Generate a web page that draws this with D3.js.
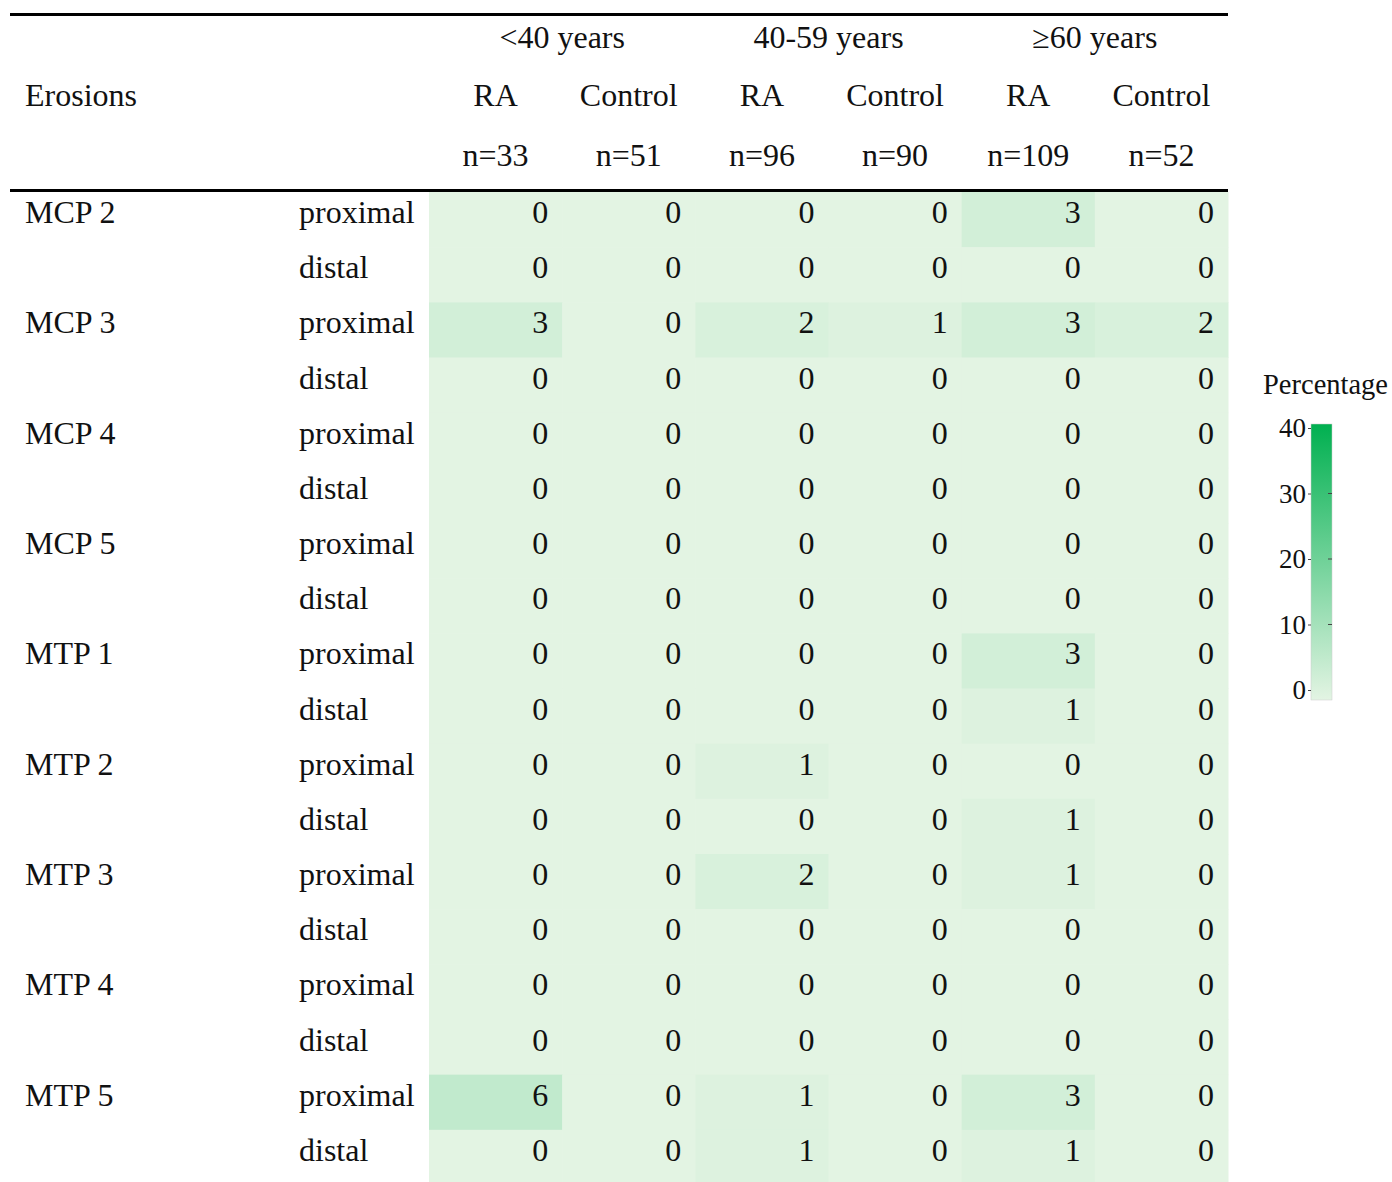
<!DOCTYPE html>
<html>
<head>
<meta charset="utf-8">
<script src="https://cdn.jsdelivr.net/npm/d3@7"></script>
<style>
  body { margin: 0; background: #fff; overflow: hidden; }
  text { font-family: "Liberation Serif", "Times New Roman", serif; fill: #111; }
</style>
</head>
<body>
<svg id="chart" width="1392" height="1182"></svg>
<script>
const ageGroups = ['<40 years', '40-59 years', '\u226560 years'];
const columns = ['RA', 'Control', 'RA', 'Control', 'RA', 'Control'];
const counts = ['n=33', 'n=51', 'n=96', 'n=90', 'n=109', 'n=52'];
const joints = ['MCP 2', 'MCP 3', 'MCP 4', 'MCP 5', 'MTP 1', 'MTP 2', 'MTP 3', 'MTP 4', 'MTP 5'];
const sides = ['proximal', 'distal'];
const values = [
  [0, 0, 0, 0, 3, 0],
  [0, 0, 0, 0, 0, 0],
  [3, 0, 2, 1, 3, 2],
  [0, 0, 0, 0, 0, 0],
  [0, 0, 0, 0, 0, 0],
  [0, 0, 0, 0, 0, 0],
  [0, 0, 0, 0, 0, 0],
  [0, 0, 0, 0, 0, 0],
  [0, 0, 0, 0, 3, 0],
  [0, 0, 0, 0, 1, 0],
  [0, 0, 1, 0, 0, 0],
  [0, 0, 0, 0, 1, 0],
  [0, 0, 2, 0, 1, 0],
  [0, 0, 0, 0, 0, 0],
  [0, 0, 0, 0, 0, 0],
  [0, 0, 0, 0, 0, 0],
  [6, 0, 1, 0, 3, 0],
  [0, 0, 1, 0, 1, 0]
];
const legendTicks = [0, 10, 20, 30, 40];

const svg = d3.select('#chart');
const fontSize = 32;

const rows = joints.flatMap(j => sides.map(s => ({ joint: j, side: s })));

const x = d3.scaleBand()
  .domain(d3.range(columns.length))
  .range([429, 1228]);

const y = d3.scaleBand()
  .domain(d3.range(rows.length))
  .range([192, 1185]);

const color = d3.scaleLinear()
  .domain([0, 40])
  .range(['#e3f4e3', '#00b050']);

// rules
svg.append('rect').attr('x', 10).attr('y', 13).attr('width', 1218).attr('height', 3).attr('fill', '#000');
svg.append('rect').attr('x', 10).attr('y', 189).attr('width', 1218).attr('height', 3).attr('fill', '#000');

// header
const header = svg.append('g').style('font-size', fontSize + 'px');
header.selectAll('.age')
  .data(ageGroups)
  .join('text')
  .attr('x', (d, i) => x(i * 2) + x.bandwidth())
  .attr('y', 47.5)
  .attr('text-anchor', 'middle')
  .text(d => d);
header.selectAll('.col')
  .data(columns)
  .join('text')
  .attr('x', (d, i) => x(i) + x.bandwidth() / 2)
  .attr('y', 105.5)
  .attr('text-anchor', 'middle')
  .text(d => d);
header.selectAll('.n')
  .data(counts)
  .join('text')
  .attr('x', (d, i) => x(i) + x.bandwidth() / 2)
  .attr('y', 165.5)
  .attr('text-anchor', 'middle')
  .text(d => d);
header.append('text').attr('x', 25).attr('y', 105.5).text('Erosions');

// body cells
const body = svg.append('g').style('font-size', fontSize + 'px');
const cells = values.flatMap((r, ri) => r.map((v, ci) => ({ r: ri, c: ci, v })));

body.selectAll('rect.cell')
  .data(cells)
  .join('rect')
  .attr('class', 'cell')
  .attr('x', d => x(d.c))
  .attr('y', d => y(d.r))
  .attr('width', x.bandwidth() + 0.5)
  .attr('height', y.bandwidth() + 0.5)
  .attr('fill', d => color(d.v));

body.selectAll('text.val')
  .data(cells)
  .join('text')
  .attr('class', 'val')
  .attr('x', d => x(d.c) + x.bandwidth() - 14)
  .attr('y', d => y(d.r) + 31)
  .attr('text-anchor', 'end')
  .text(d => d.v);

body.selectAll('text.joint')
  .data(rows)
  .join('text')
  .attr('class', 'joint')
  .attr('x', 25)
  .attr('y', (d, i) => y(i) + 31)
  .text(d => d.side === 'proximal' ? d.joint : '');

body.selectAll('text.side')
  .data(rows)
  .join('text')
  .attr('class', 'side')
  .attr('x', 299)
  .attr('y', (d, i) => y(i) + 31)
  .text(d => d.side);

// legend
const ly = d3.scaleLinear().domain([0, 40]).range([690, 428]);
const defs = svg.append('defs');
const grad = defs.append('linearGradient')
  .attr('id', 'legend-grad')
  .attr('x1', 0).attr('y1', 1).attr('x2', 0).attr('y2', 0);
grad.append('stop').attr('offset', '0%').attr('stop-color', color(0));
grad.append('stop').attr('offset', '100%').attr('stop-color', color(40));

const legend = svg.append('g');
legend.append('text')
  .attr('x', 1263)
  .attr('y', 394)
  .style('font-size', '28.5px')
  .text('Percentage');
legend.append('rect')
  .attr('x', 1311)
  .attr('y', ly(40) - 4)
  .attr('width', 21)
  .attr('height', ly(0) - ly(40) + 14)
  .attr('fill', 'url(#legend-grad)')
  .attr('stroke', '#ccc')
  .attr('stroke-width', 0.5);

const legendAxis = legend.append('g')
  .attr('transform', 'translate(1311,0)')
  .call(d3.axisLeft(ly).tickValues(legendTicks).tickSize(3).tickPadding(2));
legendAxis.select('.domain').remove();
legendAxis.selectAll('line').attr('stroke', '#444');
legendAxis.selectAll('text')
  .style('font-size', '27px')
  .style('font-family', '"Liberation Serif", serif')
  .attr('fill', '#111');
legend.selectAll('line.inner')
  .data(legendTicks.filter(t => t > 0 && t < 40))
  .join('line')
  .attr('class', 'inner')
  .attr('x1', 1328).attr('x2', 1332)
  .attr('y1', d => ly(d)).attr('y2', d => ly(d))
  .attr('stroke', '#444');
</script>
</body>
</html>
